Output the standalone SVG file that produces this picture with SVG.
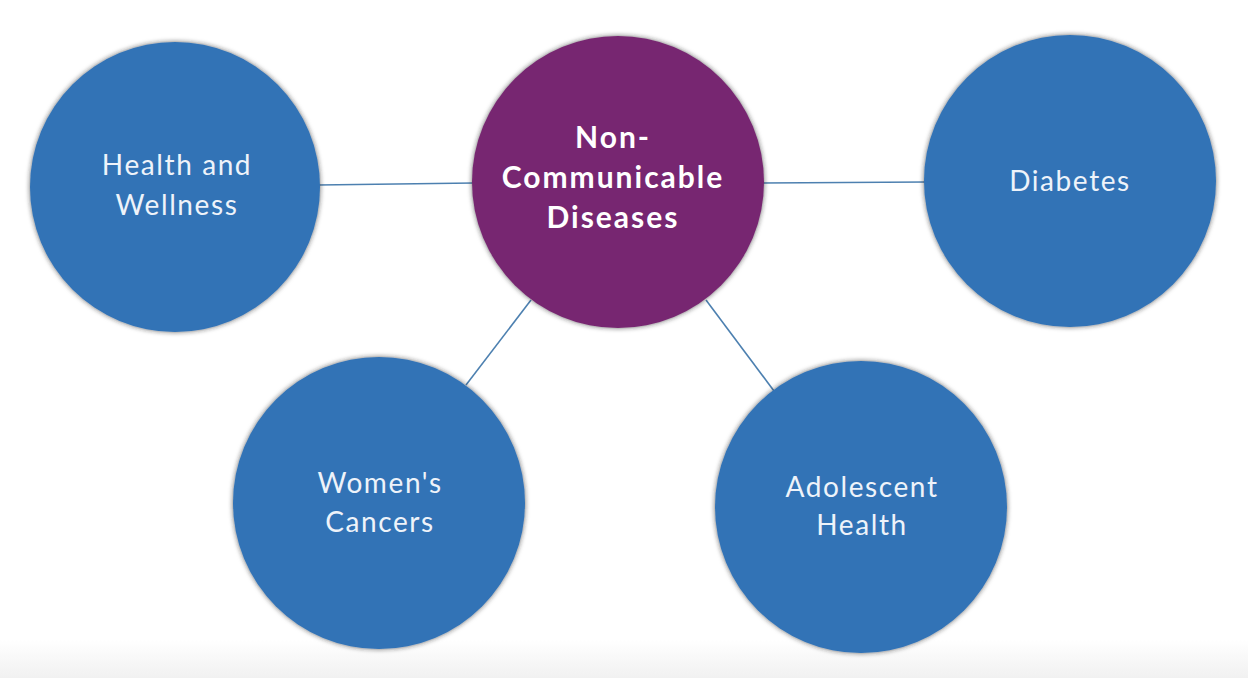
<svg xmlns="http://www.w3.org/2000/svg" width="1248" height="678" viewBox="0 0 1248 678">
<defs>
<filter id="sh" x="-10%" y="-10%" width="120%" height="120%">
<feDropShadow dx="0" dy="0" stdDeviation="2.5" flood-color="#222" flood-opacity="0.7"/>
</filter>
<linearGradient id="bg" x1="0" y1="0" x2="0" y2="1">
<stop offset="0" stop-color="#ffffff"/>
<stop offset="1" stop-color="#f1f1f1"/>
</linearGradient>
</defs>
<style>
.n{fill:#3273b6;filter:url(#sh)}
.c{fill:#772871;filter:url(#sh)}
.t{font-family:Lato,"Liberation Sans",sans-serif;font-size:28px;letter-spacing:1.6px;fill:#eef3fa;text-anchor:middle}
.b{font-family:Lato,"Liberation Sans",sans-serif;font-size:30px;letter-spacing:2px;font-weight:bold;fill:#ffffff;text-anchor:middle}
.l{stroke:#4d80b0;stroke-width:1.6;fill:none}
</style>
<rect width="1248" height="678" fill="#ffffff"/>
<rect x="0" y="640" width="1248" height="38" fill="url(#bg)"/>
<g id="connectors">
<line class="l" x1="318" y1="185" x2="474" y2="183"/>
<line class="l" x1="763" y1="183" x2="926" y2="182"/>
<line class="l" x1="531" y1="300" x2="466" y2="385"/>
<line class="l" x1="706" y1="300" x2="774" y2="391"/>
</g>
<g id="health-wellness">
<circle class="n" cx="175" cy="187" r="145"/>
<text class="t" x="177" y="175">Health and</text>
<text class="t" x="177" y="215">Wellness</text>
</g>
<g id="ncd">
<circle class="c" cx="618" cy="182" r="146"/>
<text class="b" x="613" y="148">Non-</text>
<text class="b" x="613" y="188">Communicable</text>
<text class="b" x="613" y="228">Diseases</text>
</g>
<g id="diabetes">
<circle class="n" cx="1070" cy="181" r="146"/>
<text class="t" x="1070" y="191">Diabetes</text>
</g>
<g id="womens-cancers">
<circle class="n" cx="379" cy="503" r="146"/>
<text class="t" x="380" y="493">Women's</text>
<text class="t" x="380" y="532">Cancers</text>
</g>
<g id="adolescent-health">
<circle class="n" cx="861" cy="507" r="146"/>
<text class="t" x="862" y="497">Adolescent</text>
<text class="t" x="862" y="535">Health</text>
</g>
</svg>
